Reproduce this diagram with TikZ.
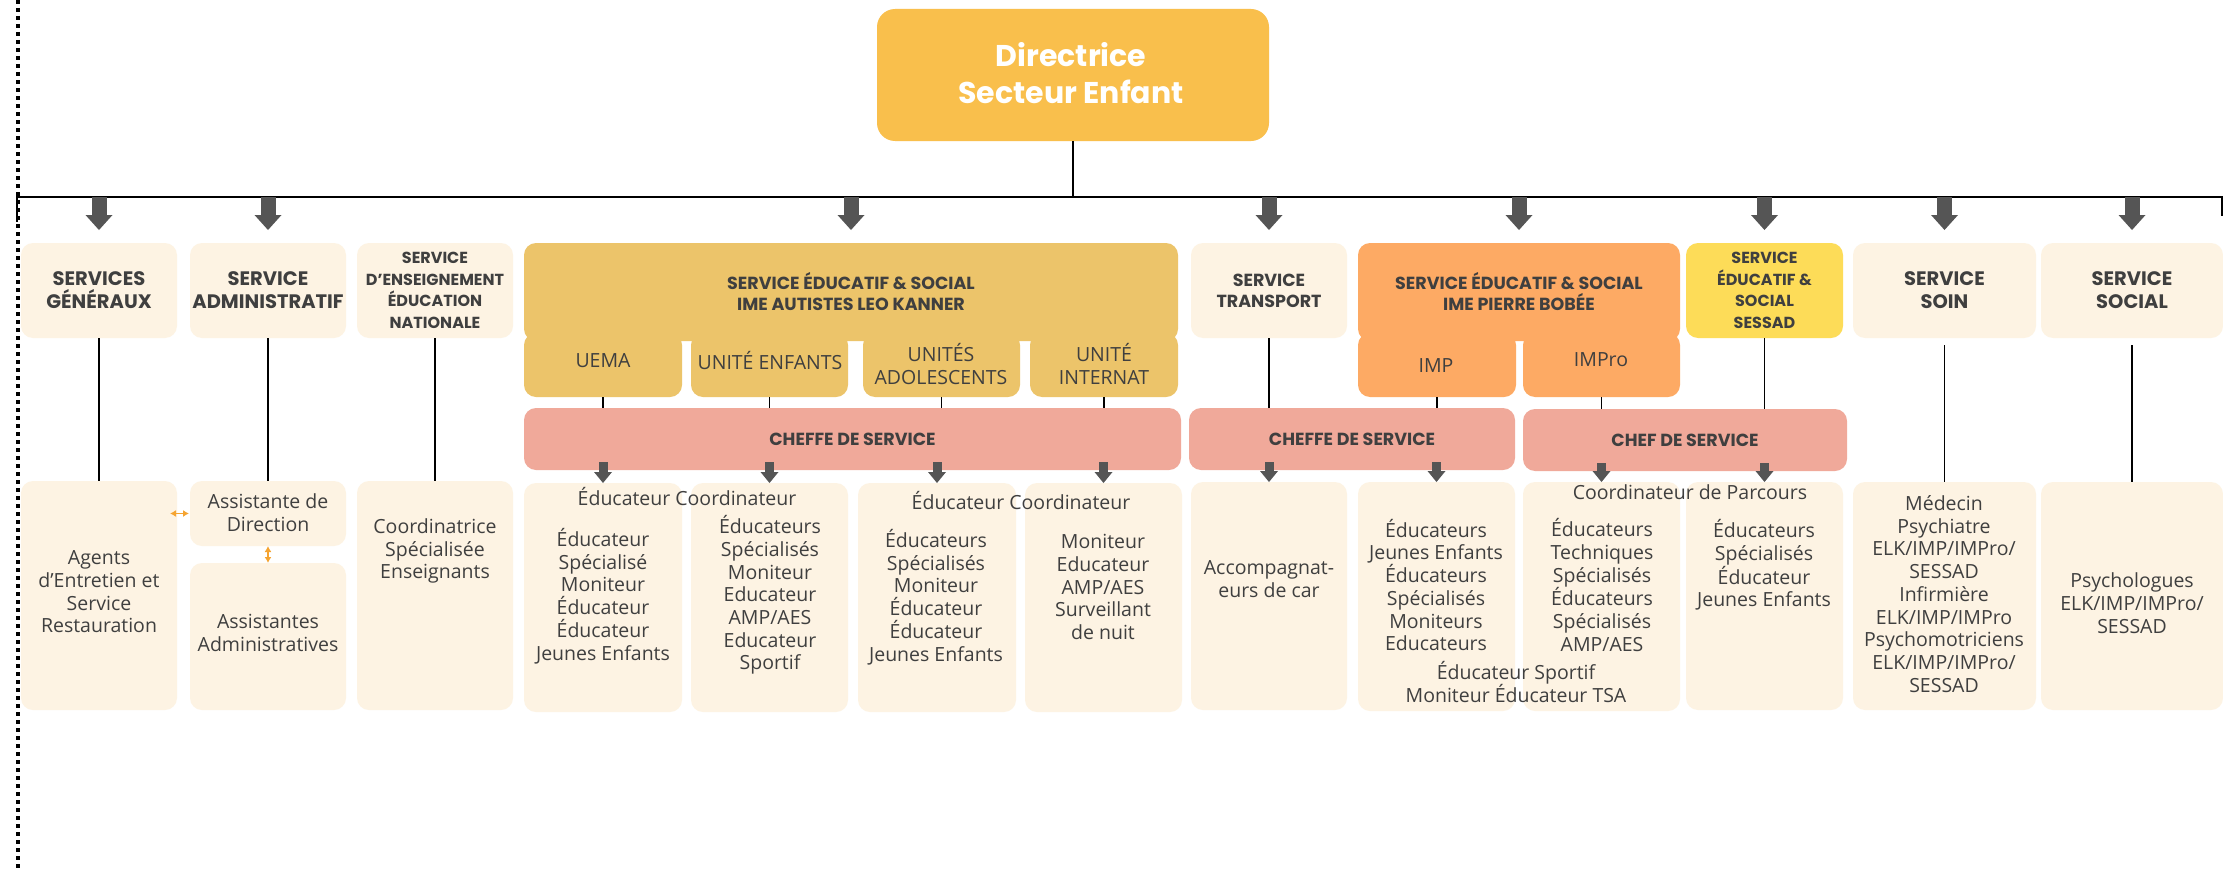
\documentclass[tikz,border=0pt]{standalone}
\usepackage{fontspec}
\setmainfont{Open Sans}
\newfontfamily\headfont{Poppins}
\usetikzlibrary{arrows.meta}
\definecolor{lightbox}{HTML}{FDF3E3}
\definecolor{dirc}{HTML}{F9BF4C}
\definecolor{kanc}{HTML}{ECC46A}
\definecolor{bobc}{HTML}{FDAA64}
\definecolor{sesc}{HTML}{FDDC58}
\definecolor{chefc}{HTML}{F0A99A}
\definecolor{txt}{HTML}{3F3F3F}
\definecolor{arrg}{HTML}{555555}
\definecolor{orar}{HTML}{F5A431}
\newcommand\mkbox[7]{\node[#6, minimum width={#4-#2}, minimum height={#5-#3}] (#1) at ({(#2+#4)/2},{(#3+#5)/2}) {#7};}
\begin{document}
\begin{tikzpicture}[x=1pt,y=-1pt,
 box/.style={rounded corners=12pt, inner sep=0pt, outer sep=0pt},
 lb/.style={box, fill=lightbox},
 hd/.style={font=\headfont\bfseries\fontsize{19.5}{23}\selectfont, text=txt, align=center},
 hdmid/.style={font=\headfont\bfseries\fontsize{17.5}{21}\selectfont, text=txt, align=center},
 hdsmall/.style={font=\headfont\bfseries\fontsize{16}{21.5}\selectfont, text=txt, align=center},
 bd/.style={font=\fontsize{19.5}{22.7}\selectfont, text=txt, align=center, inner sep=0pt},
 conn/.style={draw=black, line width=1.6pt},
 bigarr/.style={draw=arrg, line width=15pt, -{Triangle[width=27pt,length=15pt,line width=0pt]}},
 smallarr/.style={draw=arrg, line width=9pt, -{Triangle[width=18pt,length=11pt,line width=0pt]}},
 orarr/.style={draw=orar, line width=1.8pt, {Latex[length=6pt,width=7pt]}-{Latex[length=6pt,width=7pt]}},
]
\fill[white] (0,0) rectangle (2223,875);
\useasboundingbox (0,0) rectangle (2223,875);

% dotted left line
\coordinate (dtop) at (18,0);
\coordinate (dbot) at (18,870);
\draw[line width=4pt, dash pattern=on 4pt off 4pt] (dtop) -- (dbot);

% Directrice
\mkbox{dir}{877}{9}{1269}{141}{box, fill=dirc, rounded corners=18pt}{}
\node[font=\headfont\bfseries\fontsize{30}{37}\selectfont, text=white, align=center, inner sep=0pt] (dirt) at (1071,73) {Directrice\\Secteur Enfant};

% bus
\coordinate (busL) at (17,222);
\coordinate (busLt) at (17,197);
\coordinate (busRt) at (2222,197);
\coordinate (busR) at (2222,216);
\coordinate (bus) at (0,197);
\draw[conn] (busL) -- (busLt) -- (busRt) -- (busR);
\draw[conn] (dir.south) -- (dir.south |- bus);

% top row
\mkbox{sg}{21}{243}{177}{338}{lb,hd}{SERVICES\\GÉNÉRAUX}
\mkbox{adm}{190}{243}{346}{338}{lb,hd}{SERVICE\\ADMINISTRATIF}
\mkbox{ens}{357}{243}{513}{338}{lb,hdsmall}{SERVICE\\D’ENSEIGNEMENT\\ÉDUCATION\\NATIONALE}
\mkbox{kh}{524}{243}{1178}{341}{box,fill=kanc,hdmid}{SERVICE ÉDUCATIF \& SOCIAL\\IME AUTISTES LEO KANNER}
\mkbox{u1}{524}{333}{682}{397}{box,fill=kanc}{}
\mkbox{u2}{691}{333}{848}{397}{box,fill=kanc}{}
\mkbox{u3}{863}{333}{1020}{397}{box,fill=kanc}{}
\mkbox{u4}{1030}{333}{1178}{397}{box,fill=kanc}{}
\node[bd] (u1t) at (603,361) {UEMA};
\node[bd] (u2t) at (770,361) {UNITÉ ENFANTS};
\node[bd] (u3t) at (941,364) {UNITÉS\\ADOLESCENTS};
\node[bd] (u4t) at (1104,364) {UNITÉ\\INTERNAT};
\mkbox{tr}{1191}{243}{1347}{338}{lb,hdmid}{SERVICE\\TRANSPORT}
\mkbox{bh}{1358}{243}{1680}{341}{box,fill=bobc,hdmid}{SERVICE ÉDUCATIF \& SOCIAL\\IME PIERRE BOBÉE}
\mkbox{imp}{1358}{333}{1516}{397}{box,fill=bobc}{}
\mkbox{impro}{1523}{333}{1680}{397}{box,fill=bobc}{}
\node[bd] (impt) at (1436,366) {IMP};
\node[bd] (imprt) at (1601,360) {IMPro};
\mkbox{ses}{1686}{243}{1843}{338}{box,fill=sesc,hdsmall}{SERVICE\\ÉDUCATIF \&\\SOCIAL\\SESSAD}
\mkbox{soin}{1853}{243}{2036}{338}{lb,hd}{SERVICE\\SOIN}
\mkbox{soc}{2041}{243}{2223}{338}{lb,hd}{SERVICE\\SOCIAL}

% big arrows
\foreach \n in {sg,adm,kh,tr,bh,ses,soin,soc}{
  \draw[bigarr] (\n.north |- bus) -- ([yshift=13pt]\n.north);
}

% cheffe bars
\mkbox{ck}{524}{408}{1181}{470}{box,fill=chefc,hdmid}{CHEFFE DE SERVICE}
\mkbox{ct}{1189}{408}{1515}{470}{box,fill=chefc,hdmid}{CHEFFE DE SERVICE}
\mkbox{cc}{1523}{409}{1847}{471}{box,fill=chefc,hdmid}{CHEF DE SERVICE}

% lower boxes
\mkbox{sgl}{21}{481}{177}{710}{lb}{}
\mkbox{adir}{190}{481}{346}{546}{lb}{}
\mkbox{aadm}{190}{563}{346}{710}{lb}{}
\mkbox{ensl}{357}{481}{513}{710}{lb}{}
\mkbox{k1}{524}{483}{682}{712}{lb}{}
\mkbox{k2}{691}{483}{848}{712}{lb}{}
\mkbox{k3}{858}{483}{1016}{712}{lb}{}
\mkbox{k4}{1025}{483}{1182}{712}{lb}{}
\mkbox{trl}{1191}{482}{1347}{710}{lb}{}
\mkbox{impl}{1358}{482}{1515}{711}{lb}{}
\mkbox{improl}{1523}{482}{1680}{711}{lb}{}
\mkbox{sesl}{1686}{482}{1843}{710}{lb}{}
\mkbox{soinl}{1853}{482}{2036}{710}{lb}{}
\mkbox{socl}{2041}{482}{2223}{710}{lb}{}

% connectors
\draw[conn] (sg.south) -- (sgl.north);
\draw[conn] (adm.south) -- (adir.north);
\draw[conn] (ens.south) -- (ensl.north);
\foreach \u in {u1,u2,u3,u4}{ \draw[conn] (\u.south) -- (\u.south |- ck.north); }
\draw[conn] (tr.south) -- (tr.south |- ct.north);
\draw[conn] (imp.south) -- (imp.south |- ct.north);
\draw[conn] (impro.south) -- (impro.south |- cc.north);
\draw[conn] (ses.south) -- (ses.south |- cc.north);
\draw[conn, shorten <=7pt] (soin.south) -- (soinl.north);
\draw[conn, shorten <=7pt] (soc.south) -- (socl.north);

% small arrows
\foreach \k in {k1,k2,k3,k4}{ \draw[smallarr] ([yshift=8pt]ck.south -| \k.north) -- (\k.north); }
\foreach \k in {trl,impl}{ \draw[smallarr] ([yshift=8pt]ct.south -| \k.north) -- (\k.north); }
\foreach \k in {improl,sesl}{ \draw[smallarr] ([yshift=8pt]cc.south -| \k.north) -- (\k.north); }

% orange arrows
\draw[orarr] ([xshift=-7pt]sgl.east |- adir.west) -- ([xshift=-1pt]adir.west);
\draw[orarr] (adir.south) -- (aadm.north);

% lower texts
\node[bd] (sgt) at (99,592) {Agents\\d’Entretien et\\Service\\Restauration};
\node[bd] (adirt) at (268,513) {Assistante de\\Direction};
\node[bd] (aadmt) at (268,633) {Assistantes\\Administratives};
\node[bd] (enst) at (435,551) {Coordinatrice\\Spécialisée\\Enseignants};
\node[bd] (coo1) at (687,497) {Éducateur Coordinateur};
\node[bd] (k1t) at (603,596) {Éducateur\\Spécialisé\\Moniteur\\Éducateur\\Éducateur\\Jeunes Enfants};
\node[bd] (k2t) at (770,595) {Éducateurs\\Spécialisés\\Moniteur\\Educateur\\AMP/AES\\Educateur\\Sportif};
\node[bd] (coo2) at (1021,501) {Éducateur Coordinateur};
\node[bd] (k3t) at (936,597) {Éducateurs\\Spécialisés\\Moniteur\\Éducateur\\Éducateur\\Jeunes Enfants};
\node[bd] (k4t) at (1103,587) {Moniteur\\Educateur\\AMP/AES\\Surveillant\\de nuit};
\node[bd] (trt) at (1269,579) {Accompagnat-\\eurs de car};
\node[bd] (impl-t) at (1436,585) {Éducateurs\\Jeunes Enfants\\Éducateurs\\Spécialisés\\Moniteurs\\Educateurs};
\node[bd] (sport) at (1516,682) {Éducateur Sportif\\Moniteur Éducateur TSA};
\node[bd] (improl-t) at (1602,585) {Éducateurs\\Techniques\\Spécialisés\\Éducateurs\\Spécialisés\\AMP/AES};
\node[bd] (parc) at (1690,492) {Coordinateur de Parcours};
\node[bd] (sesl-t) at (1764,565) {Éducateurs\\Spécialisés\\Éducateur\\Jeunes Enfants};
\node[bd] (soinl-t) at (1944,594) {Médecin\\Psychiatre\\ELK/IMP/IMPro/\\SESSAD\\Infirmière\\ELK/IMP/IMPro\\Psychomotriciens\\ELK/IMP/IMPro/\\SESSAD};
\node[bd] (socl-t) at (2132,603) {Psychologues\\ELK/IMP/IMPro/\\SESSAD};
\end{tikzpicture}
\end{document}
